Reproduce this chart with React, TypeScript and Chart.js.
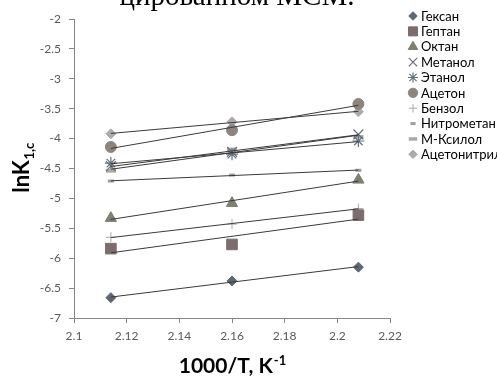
import React, { useEffect, useRef } from 'react';
import { Chart, registerables } from 'chart.js';
import { drawPoint } from 'chart.js/helpers';

Chart.register(...registerables);

// ---- data ----
const xValues = [2.114, 2.16, 2.208];
const seriesNames = ['Гексан', 'Гептан', 'Октан', 'Метанол', 'Этанол', 'Ацетон', 'Бензол', 'Нитрометан', 'М-Ксилол', 'Ацетонитрил'];
const hexane = [-6.66, -6.38, -6.15];
const heptane = [-5.84, -5.77, -5.28];
const octane = [-5.33, -5.08, -4.69];
const methanol = [-4.46, -4.22, -3.93];
const ethanol = [-4.41, -4.26, -4.04];
const acetone = [-4.14, -3.86, -3.42];
const benzene = [-5.65, -5.43, -5.17];
const nitromethane = [-4.71, -4.61, -4.53];
const mXylene = [-4.54, -4.18, -3.97];
const acetonitrile = [-3.92, -3.72, -3.55];
const seriesValues = [hexane, heptane, octane, methanol, ethanol, acetone, benzene, nitromethane, mXylene, acetonitrile];

const xTicks = [2.1, 2.12, 2.14, 2.16, 2.18, 2.2, 2.22];
const xTickLabels = ['2.1', '2.12', '2.14', '2.16', '2.18', '2.2', '2.22'];
const yTicks = [-7, -6.5, -6, -5.5, -5, -4.5, -4, -3.5, -3, -2.5, -2];
const yTickLabels = ['-7', '-6.5', '-6', '-5.5', '-5', '-4.5', '-4', '-3.5', '-3', '-2.5', '-2'];

const titleText = 'цированном МСМ.';
const yTitleMain = 'lnK';
const yTitleSub = '1,c';
const xTitleMain = '1000/T, K';
const xTitleSup = '-1';

// ---- styles ----
type PStyle = { pointStyle: string; radius: number; color: string; borderWidth: number };
const styles: PStyle[] = [
  { pointStyle: 'rectRot', radius: 5, color: '#5f6872', borderWidth: 1 },
  { pointStyle: 'rect', radius: 7.5, color: '#7b6d6d', borderWidth: 1 },
  { pointStyle: 'triangle', radius: 6.5, color: '#7c8172', borderWidth: 1 },
  { pointStyle: 'crossRot', radius: 7, color: '#6a6e74', borderWidth: 1.2 },
  { pointStyle: 'star', radius: 6, color: '#657080', borderWidth: 1.2 },
  { pointStyle: 'circle', radius: 5.5, color: '#8e847f', borderWidth: 1 },
  { pointStyle: 'cross', radius: 5, color: '#a8a8a8', borderWidth: 1 },
  { pointStyle: 'line', radius: 3, color: '#a39c9c', borderWidth: 3 },
  { pointStyle: 'line', radius: 5, color: '#a9aba6', borderWidth: 3.5 },
  { pointStyle: 'rectRot', radius: 5, color: '#ababab', borderWidth: 1 },
];

function regression(xs: number[], ys: number[]) {
  const n = xs.length;
  const mx = xs.reduce((a, b) => a + b, 0) / n;
  const my = ys.reduce((a, b) => a + b, 0) / n;
  let sxy = 0, sxx = 0;
  for (let i = 0; i < n; i++) { sxy += (xs[i] - mx) * (ys[i] - my); sxx += (xs[i] - mx) ** 2; }
  const b = sxy / sxx;
  return (x: number) => my + b * (x - mx);
}

const legendPlugin = {
  id: 'customLegend',
  afterDraw(chart: any) {
    const ctx = chart.ctx;
    ctx.save();
    const x0 = 413, y0 = 16, step = 15.37;
    seriesNames.forEach((name, i) => {
      const s = styles[i];
      const y = y0 + i * step;
      ctx.fillStyle = s.color;
      ctx.strokeStyle = s.color;
      ctx.lineWidth = s.borderWidth;
      drawPoint(ctx, { pointStyle: s.pointStyle as any, radius: s.radius * 0.85, rotation: 0, borderWidth: s.borderWidth } as any, x0, y);
      ctx.fillStyle = '#000';
      ctx.font = '13px Lato';
      ctx.textBaseline = 'middle';
      ctx.textAlign = 'left';
      ctx.fillText(name, 421, y + 0.5);
    });
    ctx.restore();
  },
};

const axisTitlePlugin = {
  id: 'axisTitles',
  afterDraw(chart: any) {
    const ctx = chart.ctx;
    ctx.save();
    ctx.fillStyle = '#000';
    ctx.textBaseline = 'alphabetic';
    ctx.textAlign = 'left';
    // y title
    ctx.translate(29, 168);
    ctx.rotate(-Math.PI / 2);
    ctx.font = 'bold 22px Lato';
    const w1 = ctx.measureText(yTitleMain).width;
    ctx.font = 'bold 13px Lato';
    const w2 = ctx.measureText(yTitleSub).width;
    const start = -(w1 + w2) / 2;
    ctx.font = 'bold 22px Lato';
    ctx.fillText(yTitleMain, start, 0);
    ctx.font = 'bold 13px Lato';
    ctx.fillText(yTitleSub, start + w1 + 0.5, 5);
    ctx.restore();
    // x title
    ctx.save();
    ctx.fillStyle = '#000';
    ctx.textBaseline = 'alphabetic';
    ctx.textAlign = 'left';
    ctx.font = 'bold 21px Lato';
    const a = ctx.measureText(xTitleMain).width;
    ctx.font = 'bold 13px Lato';
    const b = ctx.measureText(xTitleSup).width;
    const sx = 232 - (a + b) / 2;
    ctx.font = 'bold 21px Lato';
    ctx.fillText(xTitleMain, sx, 373);
    ctx.font = 'bold 13px Lato';
    ctx.fillText(xTitleSup, sx + a + 1, 365);
    ctx.restore();
  },
};

export default function App() {
  const ref = useRef<HTMLCanvasElement | null>(null);
  useEffect(() => {
    if (!ref.current) return;
    const markerSets = seriesNames.map((name, i) => ({
      type: 'scatter' as const,
      label: name,
      data: xValues.map((x, j) => ({ x, y: seriesValues[i][j] })),
      pointStyle: styles[i].pointStyle,
      pointRadius: styles[i].radius,
      pointHoverRadius: styles[i].radius,
      pointBackgroundColor: styles[i].color,
      pointBorderColor: styles[i].color,
      pointBorderWidth: styles[i].borderWidth,
      showLine: false,
      order: 2,
    }));
    const xmin = Math.min(...xValues), xmax = Math.max(...xValues);
    const trendSets = seriesNames.map((name, i) => {
      const f = regression(xValues, seriesValues[i]);
      return {
        type: 'line' as const,
        label: name + ' trend',
        data: [{ x: xmin, y: f(xmin) }, { x: xmax, y: f(xmax) }],
        borderColor: '#3a3a3a',
        borderWidth: 1,
        pointRadius: 0,
        fill: false,
        showLine: true,
        order: 1,
      };
    });
    const chart = new Chart(ref.current, {
      type: 'scatter',
      data: { datasets: [...markerSets, ...trendSets] as any },
      options: {
        animation: false,
        responsive: false,
        events: [],
        layout: { padding: { left: 0, top: 19, right: 107, bottom: 0 } },
        plugins: { legend: { display: false }, tooltip: { enabled: false }, title: { display: false } },
        scales: {
          x: {
            type: 'linear',
            min: 2.1,
            max: 2.22,
            afterBuildTicks: (s: any) => { s.ticks = xTicks.map((v) => ({ value: v })); },
            afterFit: (s: any) => { s.height = 58; },
            ticks: {
              callback: (v: any) => { const k = xTicks.findIndex((t) => Math.abs(t - Number(v)) < 1e-9); return k >= 0 ? xTickLabels[k] : ''; },
              color: '#595959',
              font: { family: 'Lato', size: 12 },
              padding: 6,
              maxRotation: 0,
              autoSkip: false,
            },
            grid: { drawOnChartArea: false, drawTicks: true, tickLength: 5, color: '#868686' },
            border: { display: true, color: '#868686' },
          },
          y: {
            type: 'linear',
            min: -7,
            max: -2,
            afterBuildTicks: (s: any) => { s.ticks = yTicks.map((v) => ({ value: v })); },
            afterFit: (s: any) => { s.width = 74; },
            ticks: {
              callback: (v: any) => { const k = yTicks.findIndex((t) => Math.abs(t - Number(v)) < 1e-9); return k >= 0 ? yTickLabels[k] : ''; },
              color: '#595959',
              font: { family: 'Lato', size: 12 },
              padding: 8,
              autoSkip: false,
            },
            grid: { drawOnChartArea: false, drawTicks: true, tickLength: 5, color: '#868686' },
            border: { display: true, color: '#868686' },
          },
        },
      },
      plugins: [legendPlugin, axisTitlePlugin],
    });
    return () => chart.destroy();
  }, []);

  return (
    <div style={{ position: 'fixed', left: 0, top: 0, width: 497, height: 376, background: '#fff', overflow: 'hidden' }}>
      <canvas ref={ref} width={497} height={376} style={{ position: 'absolute', left: 0, top: 0, width: 497, height: 376 }} />
      <div
        style={{
          position: 'absolute',
          left: 0,
          width: 474,
          top: -19,
          textAlign: 'center',
          fontFamily: '"Liberation Serif", serif',
          fontSize: 29,
          lineHeight: '29px',
          color: '#000',
          whiteSpace: 'nowrap',
        }}
      >
        {titleText}
      </div>
    </div>
  );
}
